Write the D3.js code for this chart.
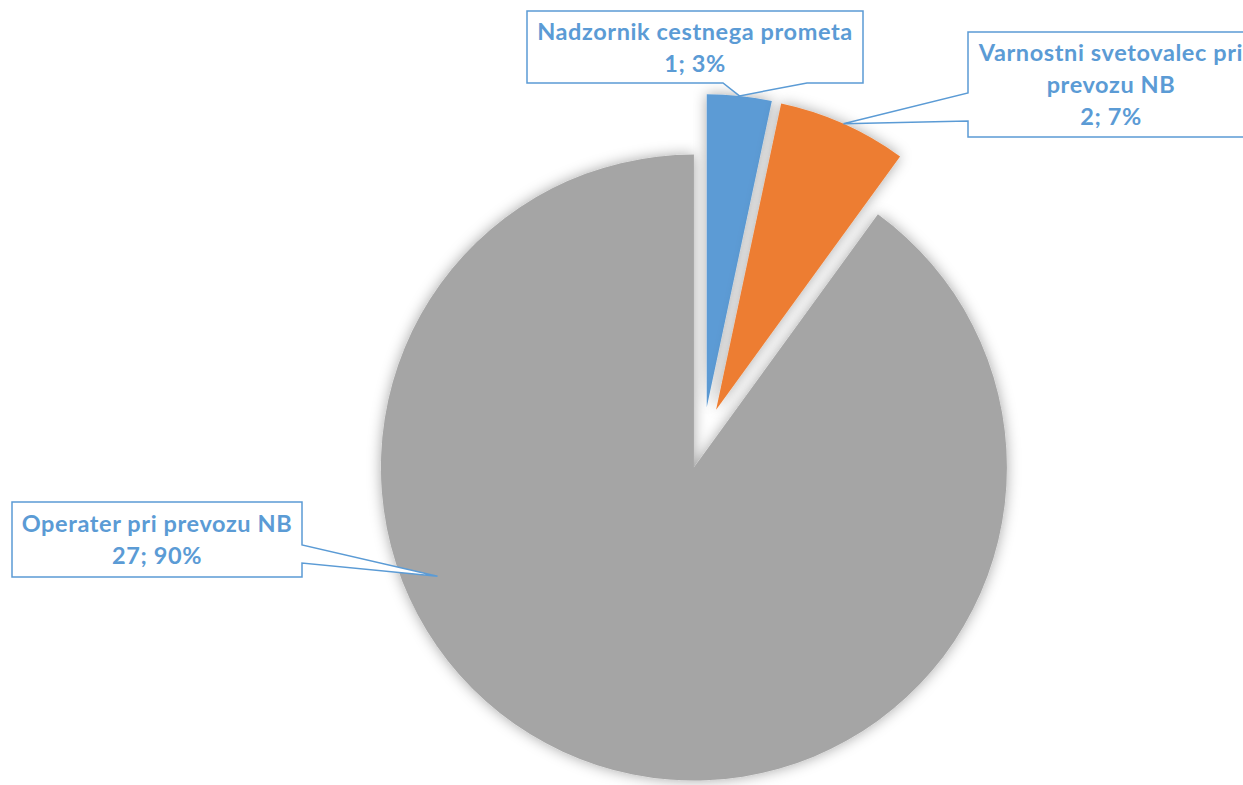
<!DOCTYPE html>
<html>
<head>
<meta charset="utf-8">
<script src="https://cdn.jsdelivr.net/npm/d3@7"></script>
<style>
  body { margin: 0; background: #fff; }
  svg { display: block; }
</style>
</head>
<body>
<svg id="chart" width="1243" height="785"></svg>
<script>
// data
const categories = ["Nadzornik cestnega prometa", "Varnostni svetovalec pri prevozu NB", "Operater pri prevozu NB"];
const counts = [1, 2, 27];
const percents = ["3%", "7%", "90%"];
const colors = ["#5B9BD5", "#ED7D31", "#A5A5A5"];

// label text lines (as wrapped in the chart)
const labelLines = [
    ["Nadzornik cestnega prometa"],
    ["Varnostni svetovalec pri", "prevozu NB"],
    ["Operater pri prevozu NB"]
];

const width = 1243, height = 785;
const cx = 703.5, cy = 438, radius = 313, explode = 31;

// callout boxes: x, y, w, h, side of the pointer, pointer base, anchor on slice
const callouts = [
    { x: 527, y: 11, w: 336, h: 72, side: "bottom", base: [723, 807], anchorR: 1, anchorA: null },
    { x: 968, y: 32, w: 286, h: 105, side: "left", base: [93, 121], anchorR: 1, anchorA: null },
    { x: 12, y: 502, w: 290, h: 75, side: "right", base: [545, 563], anchorR: 0.89, anchorA: 247 }
];

const svg = d3.select("#chart");

const defs = svg.append("defs");
const filter = defs.append("filter")
    .attr("id", "shadow")
    .attr("x", "-20%").attr("y", "-20%")
    .attr("width", "140%").attr("height", "140%");
filter.append("feDropShadow")
    .attr("dx", 0).attr("dy", 0)
    .attr("stdDeviation", 7)
    .attr("flood-color", "#000")
    .attr("flood-opacity", 0.35);

const pie = d3.pie().sort(null).value(d => d)(counts);
const arc = d3.arc().innerRadius(0).outerRadius(radius);

function offsetOf(d) {
    const a = (d.startAngle + d.endAngle) / 2;
    return [cx + explode * Math.sin(a), cy - explode * Math.cos(a)];
}

const slices = svg.append("g")
    .selectAll("path")
    .data(pie);

slices.enter()
    .append("path")
    .attr("d", arc)
    .attr("fill", (d, i) => colors[i])
    .attr("filter", "url(#shadow)")
    .attr("transform", d => `translate(${offsetOf(d)})`);

// callouts
function calloutPath(c, tip) {
    const x0 = c.x, y0 = c.y, x1 = c.x + c.w, y1 = c.y + c.h;
    const [b1, b2] = c.base;
    if (c.side === "bottom") {
        return `M${x0},${y0}H${x1}V${y1}H${b2}L${tip[0]},${tip[1]}L${b1},${y1}H${x0}Z`;
    }
    if (c.side === "left") {
        return `M${x0},${y0}H${x1}V${y1}H${x0}V${b2}L${tip[0]},${tip[1]}L${x0},${b1}Z`;
    }
    return `M${x0},${y0}H${x1}V${b1}L${tip[0]},${tip[1]}L${x1},${b2}V${y1}H${x0}Z`;
}

const labels = svg.append("g");
const lineHeight = 32;

pie.forEach((d, i) => {
    const c = callouts[i];
    const [ox, oy] = offsetOf(d);
    const a = c.anchorA === null ? (d.startAngle + d.endAngle) / 2 : c.anchorA * Math.PI / 180;
    const r = radius * c.anchorR;
    const tip = [ox + r * Math.sin(a), oy - r * Math.cos(a)];

    labels.append("path")
        .attr("d", calloutPath(c, tip))
        .attr("fill", "#fff")
        .attr("stroke", "#5B9BD5")
        .attr("stroke-width", 1.5);

    const lines = labelLines[i].concat([`${counts[i]}; ${percents[i]}`]);
    const midY = c.y + c.h / 2;
    const firstBase = midY - (lines.length - 1) * lineHeight / 2 + 8.5;

    const text = labels.append("text")
        .attr("text-anchor", "middle")
        .attr("font-family", "Lato, 'Open Sans', sans-serif")
        .attr("font-weight", "bold")
        .attr("font-size", 23.5)
        .attr("letter-spacing", 0.6)
        .attr("fill", "#5B9BD5");

    lines.forEach((l, j) => {
        text.append("tspan")
            .attr("x", c.x + c.w / 2)
            .attr("y", firstBase + j * lineHeight)
            .text(l);
    });
});
</script>
</body>
</html>
